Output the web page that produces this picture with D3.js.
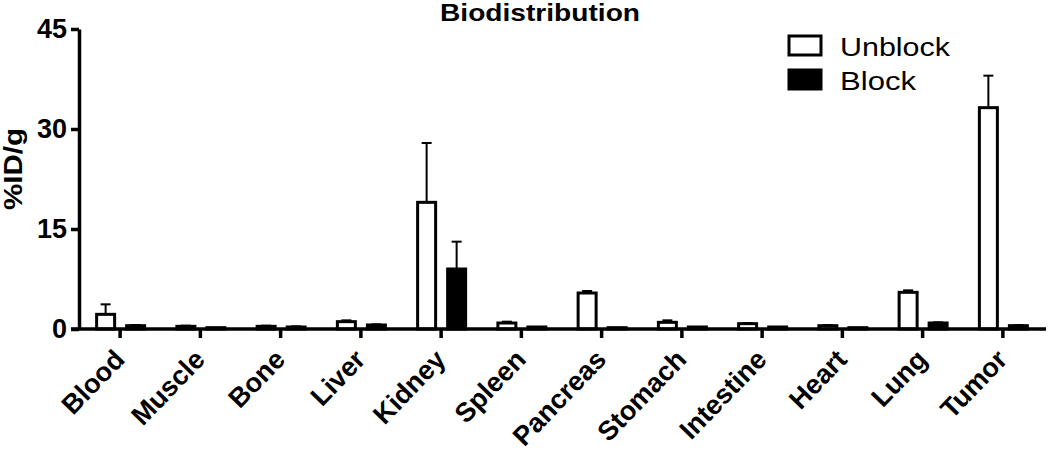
<!DOCTYPE html>
<html>
<head>
<meta charset="utf-8">
<script src="https://cdn.jsdelivr.net/npm/d3@7/dist/d3.min.js"></script>
<style>
  html, body { margin: 0; padding: 0; background: #fff; }
  svg { display: block; font-family: Arial, "Liberation Sans", sans-serif; }
</style>
</head>
<body>
<svg width="1050" height="455"></svg>
<script>
// organs on the x axis
const organs = ['Blood', 'Muscle', 'Bone', 'Liver', 'Kidney', 'Spleen',
  'Pancreas', 'Stomach', 'Intestine', 'Heart', 'Lung', 'Tumor'];

// %ID/g
const unblock    = [2.2, 0.4, 0.4, 1.1, 19.0, 0.9, 5.4, 1.0, 0.8, 0.5, 5.5, 33.2];
const unblockErr = [1.5, 0.1, 0.1, 0.2, 8.9, 0.2, 0.3, 0.3, 0.1, 0.1, 0.3, 4.8];
const block      = [0.5, 0.2, 0.3, 0.6, 9.0, 0.3, 0.2, 0.3, 0.3, 0.2, 0.9, 0.5];
const blockErr   = [0.1, 0.0, 0.1, 0.1, 4.1, 0.0, 0.0, 0.0, 0.0, 0.0, 0.1, 0.1];

const yTicks = [0, 15, 30, 45];
const seriesNames = ['Unblock', 'Block'];

const svg = d3.select('svg');

const x = d3.scaleBand().domain(organs).range([80, 1043]);
const y = d3.scaleLinear().domain([0, 45]).range([329, 29]);

const barW = 18;
const half = barW / 2;
// each series sits either side of the group centre
const offsets = [-14.5, 15.5];

const rows = organs.map((o, i) => ([
  { organ: o, s: 0, v: unblock[i], e: unblockErr[i] },
  { organ: o, s: 1, v: block[i], e: blockErr[i] },
])).flat();

const cx = d => x(d.organ) + x.bandwidth() / 2 + offsets[d.s];

// error bars (upward only)
const err = svg.append('g')
  .attr('stroke', '#000')
  .attr('stroke-width', 2)
  .selectAll('g')
  .data(rows.filter(d => d.e > 0))
  .join('g');

err.append('line')
  .attr('x1', cx).attr('x2', cx)
  .attr('y1', d => y(d.v)).attr('y2', d => y(d.v + d.e));

err.append('line')
  .attr('x1', d => cx(d) - 5).attr('x2', d => cx(d) + 5)
  .attr('y1', d => y(d.v + d.e)).attr('y2', d => y(d.v + d.e));

// bars
svg.append('g')
  .selectAll('rect')
  .data(rows)
  .join('rect')
  .attr('x', d => cx(d) - half)
  .attr('width', barW)
  .attr('y', d => y(d.v))
  .attr('height', d => y(0) - y(d.v))
  .attr('fill', d => d.s === 0 ? '#fff' : '#000')
  .attr('stroke', '#000')
  .attr('stroke-width', 3);

// y axis
const yAxis = svg.append('g')
  .attr('transform', 'translate(79,0)')
  .call(d3.axisLeft(y).tickValues(yTicks).tickSize(8).tickPadding(4).tickSizeOuter(0));

yAxis.select('.domain').attr('stroke-width', 3.5);
yAxis.selectAll('.tick line').attr('stroke-width', 3.5);
yAxis.selectAll('.tick text')
  .attr('font-size', 27)
  .attr('font-weight', 'bold')
  .attr('fill', '#000')
  .attr('font-family', 'Arial, "Liberation Sans", sans-serif');

// x axis
const xAxis = svg.append('g')
  .attr('transform', `translate(0,${y(0)})`)
  .call(d3.axisBottom(x).tickSize(9).tickPadding(8).tickSizeOuter(0));

xAxis.select('.domain').attr('d', 'M71,0H1046').attr('stroke-width', 3.5);
xAxis.selectAll('.tick line').attr('stroke-width', 3.5);
xAxis.selectAll('.tick text')
  .attr('font-size', 27)
  .attr('font-weight', 'bold')
  .attr('fill', '#000')
  .attr('font-family', 'Arial, "Liberation Sans", sans-serif')
  .attr('text-anchor', 'end')
  .attr('dy', null)
  .attr('y', 0)
  .attr('transform', 'translate(6,32) rotate(-46)');

// title
svg.append('text')
  .attr('x', 440).attr('y', 21)
  .attr('font-size', 24)
  .attr('font-weight', 'bold')
  .attr('textLength', 200)
  .attr('lengthAdjust', 'spacingAndGlyphs')
  .text('Biodistribution');

// y label
svg.append('text')
  .attr('transform', 'translate(22,169) rotate(-90)')
  .attr('text-anchor', 'middle')
  .attr('font-size', 25)
  .attr('font-weight', 'bold')
  .attr('textLength', 82)
  .attr('lengthAdjust', 'spacingAndGlyphs')
  .text('%ID/g');

// legend
const legend = svg.append('g')
  .selectAll('g')
  .data(seriesNames)
  .join('g')
  .attr('transform', (d, i) => `translate(789,${36 + i * 34})`);

legend.append('rect')
  .attr('width', 32).attr('height', 19)
  .attr('fill', (d, i) => i === 0 ? '#fff' : '#000')
  .attr('stroke', '#000')
  .attr('stroke-width', 3);

legend.append('text')
  .attr('x', 51).attr('y', 20)
  .attr('font-size', 26)
  .attr('textLength', (d, i) => i === 0 ? 110 : 76)
  .attr('lengthAdjust', 'spacingAndGlyphs')
  .text(d => d);
</script>
</body>
</html>
